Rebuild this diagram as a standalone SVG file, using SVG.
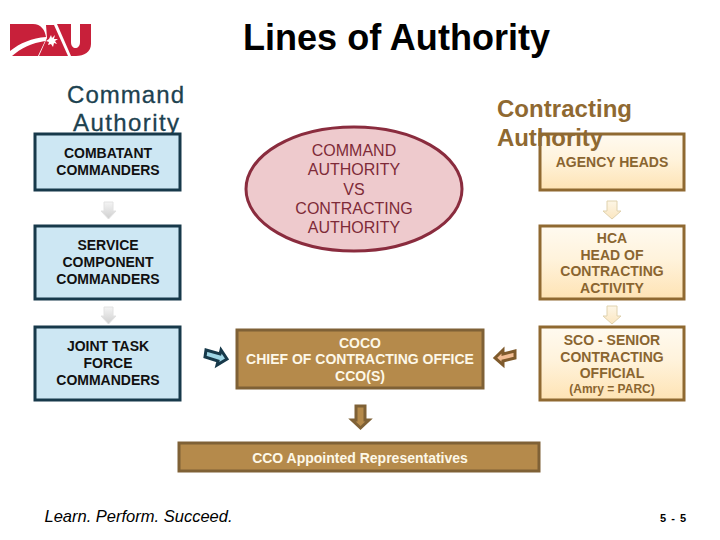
<svg xmlns="http://www.w3.org/2000/svg" width="720" height="540" viewBox="0 0 720 540">
<defs>
<linearGradient id="tan" x1="0" y1="0" x2="0" y2="1"><stop offset="0" stop-color="#fffaf0"/><stop offset="0.45" stop-color="#fff3dc"/><stop offset="1" stop-color="#fee3b4"/></linearGradient>
<linearGradient id="arrT" x1="0" y1="0" x2="0" y2="1"><stop offset="0" stop-color="#fdf6e6"/><stop offset="1" stop-color="#fbe6c0"/></linearGradient>
<linearGradient id="arrG" x1="0" y1="0" x2="0" y2="1"><stop offset="0" stop-color="#f4f4f4"/><stop offset="1" stop-color="#cfcfcf"/></linearGradient>
</defs>
<style>
text{font-family:"Liberation Sans",Arial,sans-serif;text-anchor:middle}
.blue{fill:#cde7f3;stroke:#17394a;stroke-width:3}
.tanb{fill:url(#tan);stroke:#8f6931;stroke-width:3}
.brown{fill:#b58a4b;stroke:#7f6136;stroke-width:3}
.k{font-size:14px;font-weight:bold;fill:#111}
.t{font-size:14px;font-weight:bold;fill:#8a6530}
.w{font-size:14px;font-weight:bold;fill:#fdf8e8}
.ov{font-size:16px;fill:#7e2a38}
.h{font-size:24px}
</style>
<g id="logo" fill="#c8203a">
<path d="M10 24H33C41 24 45 30 46 37C32 38 20 43 10 51Z"/>
<path d="M12 56C21 48 32 43 45 41L38 56Z"/>
<path d="M46 25H54L68 56H39L47 38Z"/>
<path d="M57 24H71V42C71 50 80 50 80 42V24H91V44C91 52 84 56 76 56H71Z"/>
<path fill="#fff" d="M49 39l2-4 1 3 3-3-1 4 4 0-3 2 2 3-3-1-1 4-2-3-3 1 1-3-3-1z"/>
</g>
<text id="title" x="396.500" y="50" font-size="36" font-weight="bold" fill="#000" textLength="307" lengthAdjust="spacingAndGlyphs">Lines of Authority</text>
<g id="command-heading" class="h" fill="#1d4250" stroke="#1d4250" stroke-width=".3"><text x="125.500" y="103" textLength="117">Command</text><text x="126" y="131" textLength="106">Authority</text></g>
<g id="combatant"><rect class="blue" x="35" y="134" width="145" height="56"/><text class="k"><tspan x="108" y="158">COMBATANT</tspan><tspan x="108" y="175">COMMANDERS</tspan></text></g>
<g id="service"><rect class="blue" x="35" y="226" width="145" height="73"/><text class="k"><tspan x="108" y="250">SERVICE</tspan><tspan x="108" y="267">COMPONENT</tspan><tspan x="108" y="284">COMMANDERS</tspan></text></g>
<g id="joint"><rect class="blue" x="35" y="327" width="145" height="73"/><text class="k"><tspan x="108" y="351">JOINT TASK</tspan><tspan x="108" y="368">FORCE</tspan><tspan x="108" y="385">COMMANDERS</tspan></text></g>
<g id="vs"><ellipse cx="354" cy="189" rx="108" ry="62" fill="#eecacd" stroke="#8a2c3e" stroke-width="3"/><text class="ov"><tspan x="354" y="156">COMMAND</tspan><tspan x="354" y="175">AUTHORITY</tspan><tspan x="354" y="195">VS</tspan><tspan x="354" y="214">CONTRACTING</tspan><tspan x="354" y="233">AUTHORITY</tspan></text></g>
<g id="agency"><rect class="tanb" x="540" y="134" width="144" height="56"/><text class="t" x="612" y="167">AGENCY HEADS</text></g>
<g id="contracting-heading" class="h" fill="#8f6931" font-weight="bold"><text x="564.500" y="117" textLength="135">Contracting</text><text x="550" y="146" textLength="106">Authority</text></g>
<g id="hca"><rect class="tanb" x="540" y="226" width="144" height="73"/><text class="t"><tspan x="612" y="243">HCA</tspan><tspan x="612" y="260">HEAD OF</tspan><tspan x="612" y="276">CONTRACTING</tspan><tspan x="612" y="293">ACTIVITY</tspan></text></g>
<g id="sco"><rect class="tanb" x="540" y="327" width="144" height="73"/><text class="t"><tspan x="612" y="345">SCO - SENIOR</tspan><tspan x="612" y="362">CONTRACTING</tspan><tspan x="612" y="378">OFFICIAL</tspan><tspan x="612" y="393" font-size="12">(Amry = PARC)</tspan></text></g>
<g id="coco"><rect class="brown" x="237" y="330" width="246" height="58"/><text class="w"><tspan x="360" y="348">COCO</tspan><tspan x="360" y="364">CHIEF OF CONTRACTING OFFICE</tspan><tspan x="360" y="381">CCO(S)</tspan></text></g>
<g id="cco-reps"><rect class="brown" x="179" y="443" width="360" height="28"/><text class="w" x="360" y="463">CCO Appointed Representatives</text></g>
<g id="connectors">
<path fill="url(#arrG)" stroke="#e2e2e2" d="M104 202H113V211H116L108.500 219L101 211H104Z"/>
<path fill="url(#arrG)" stroke="#e2e2e2" d="M104 307H113V316H116L108.500 324L101 316H104Z"/>
<path fill="url(#arrT)" stroke="#e0d2ae" d="M607 201H617V211H621L612 219L603 211H607Z"/>
<path fill="url(#arrT)" stroke="#e0d2ae" d="M607 306H617V316H621L612 324L603 316H607Z"/>
<path fill="#9fd6e6" stroke="#17394a" stroke-width="3" d="M206 350L220 354L221 350L227 359L217 365L218 361L205 357Z"/>
<path fill="#f2bd94" stroke="#7f5a2c" stroke-width="3" d="M515 351L515 358L503 361L503 365L495 358L503 350L503 354Z"/>
<path fill="#b58a4b" stroke="#7f6136" stroke-width="3" d="M356 406H365V420H369L360.500 428L352 420H356Z"/>
</g>
<text id="tagline" x="138.500" y="522" font-size="16.500" font-style="italic" fill="#000">Learn. Perform. Succeed.</text>
<text id="page" x="673" y="522" font-size="11" font-weight="bold" fill="#000" textLength="26">5 - 5</text>
</svg>
